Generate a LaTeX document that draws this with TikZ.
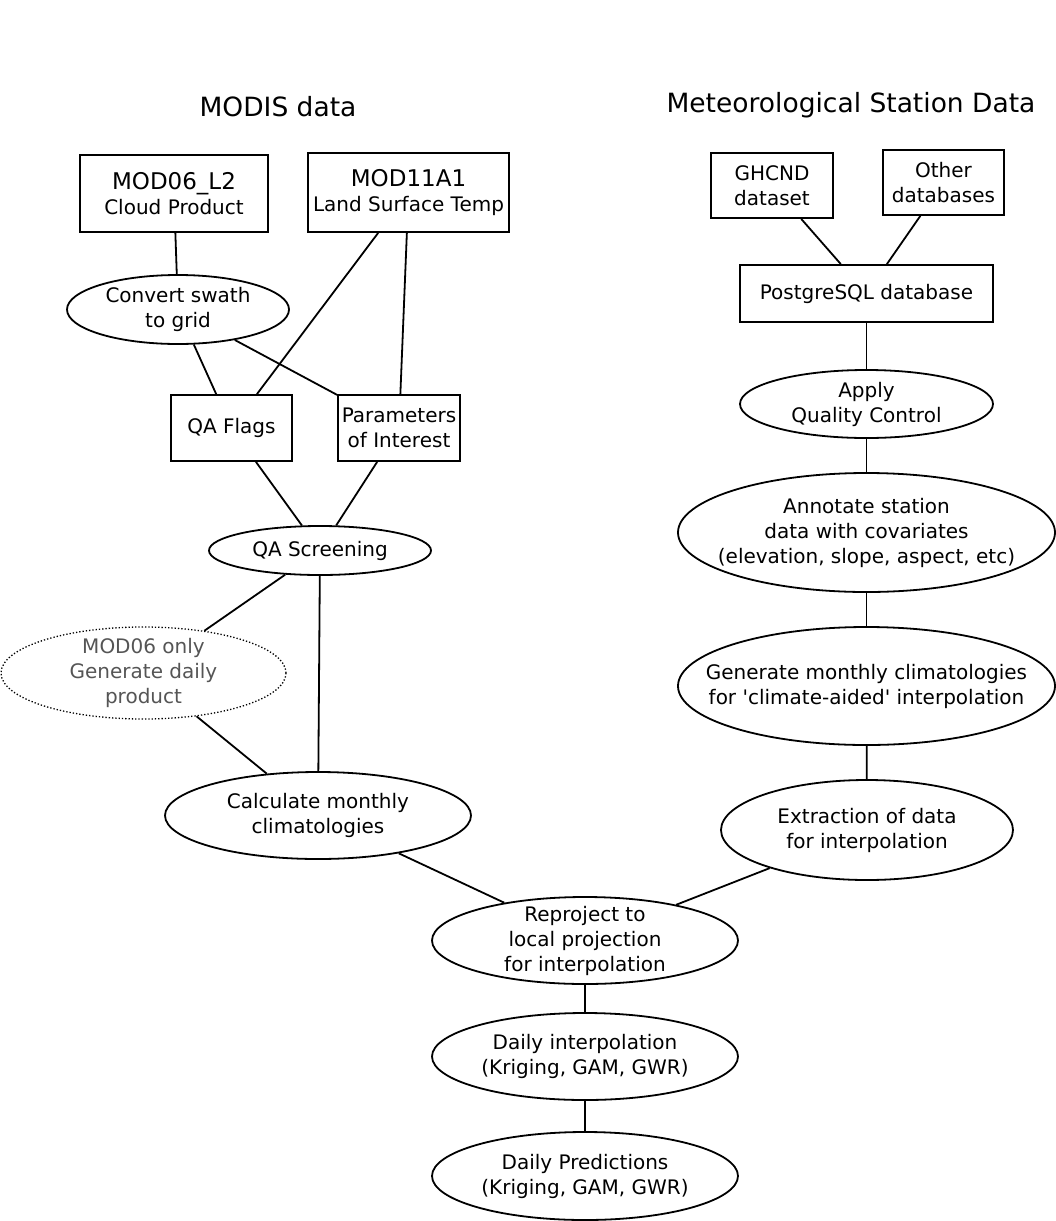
\documentclass[tikz,border=0pt]{standalone}
\usepackage{fontspec}
\setmainfont{DejaVu Sans}
\usepackage{tikz}
\usetikzlibrary{shapes.geometric}

\begin{document}
\begin{tikzpicture}
        \tikzstyle{every path}=[line width=1.8pt]
        \tikzstyle{every node}=[align=center,text=black,font=\fontsize{20}{25}\selectfont,inner sep=2pt]
        \tikzstyle{box}=[rectangle,draw=black]
        \tikzstyle{oval}=[ellipse,draw=black,inner xsep=-50pt,inner ysep=-5pt]
        \tikzstyle{title}=[font=\fontsize{26.5}{32}\selectfont]

        \useasboundingbox (0pt,0pt) rectangle (1056pt,-1221pt);

        % headings
        \node [title] (t0) at (278pt,-107pt) {MODIS data};
        \node [title] (t1) at (851pt,-105pt) {Meteorological Station Data};

        % MODIS branch
        \node [box, minimum width=188pt, minimum height=77pt] (n0) at (174pt,-193.5pt)
            {{\fontsize{23}{26}\selectfont MOD06\_L2}\\Cloud Product};
        \node [box, minimum width=201pt, minimum height=79pt] (n1) at (408.5pt,-192.5pt)
            {{\fontsize{23}{26}\selectfont MOD11A1}\\Land Surface Temp};
        \node [oval, minimum width=222pt, minimum height=69pt] (n2) at (178pt,-309.5pt) {Convert swath\\to grid};
        \node [box, minimum width=121pt, minimum height=66pt] (n3) at (231.5pt,-428pt) {QA Flags};
        \node [box, minimum width=122pt, minimum height=66pt] (n4) at (399pt,-428pt) {Parameters\\of Interest};
        \node [oval, minimum width=222pt, minimum height=49pt] (n5) at (320pt,-550.5pt) {QA Screening};
        \definecolor{gtextcolor}{HTML}{555555}
        \node [oval, dotted, line width=1.3pt, text=gtextcolor, minimum width=285pt, minimum height=92pt] (n6) at (143.5pt,-673pt)
            {MOD06 only\\Generate daily\\product};
        \node [oval, minimum width=306pt, minimum height=87pt] (n7) at (318pt,-815.5pt) {Calculate monthly\\climatologies};

        % station branch
        \node [box, minimum width=122pt, minimum height=65pt] (n8) at (772pt,-185.5pt) {GHCND\\dataset};
        \node [box, minimum width=121pt, minimum height=65pt] (n9) at (943.5pt,-182.5pt) {Other\\databases};
        \node [box, minimum width=253pt, minimum height=57pt] (n10) at (866.5pt,-293.5pt) {PostgreSQL database};
        \node [oval, minimum width=253pt, minimum height=68pt] (n11) at (866.5pt,-404pt) {Apply\\Quality Control};
        \node [oval, minimum width=377pt, minimum height=119pt] (n12) at (866.5pt,-532.5pt)
            {Annotate station\\data with covariates\\(elevation, slope, aspect, etc)};
        \node [oval, minimum width=377pt, minimum height=118pt] (n13) at (866.5pt,-686pt)
            {Generate monthly climatologies\\for \textquotesingle climate-aided\textquotesingle{} interpolation};
        \node [oval, minimum width=292pt, minimum height=100pt] (n14) at (867pt,-830pt) {Extraction of data\\for interpolation};

        % common trunk
        \node [oval, minimum width=306pt, minimum height=87pt] (n15) at (585pt,-940.5pt)
            {Reproject to\\local projection\\for interpolation};
        \node [oval, minimum width=306pt, minimum height=87pt] (n16) at (585pt,-1056.5pt)
            {Daily interpolation\\(Kriging, GAM, GWR)};
        \node [oval, minimum width=306pt, minimum height=88pt] (n17) at (585pt,-1176pt)
            {Daily Predictions\\(Kriging, GAM, GWR)};

        \draw (n0) -- (n2);
        \draw (n1) -- (n3);
        \draw (n1) -- (n4);
        \draw (n2) -- (n3);
        \draw (n2) -- (n4);
        \draw (n3) -- (n5);
        \draw (n4) -- (n5);
        \draw (n5) -- (n6);
        \draw (n5) -- (n7);
        \draw (n6) -- (n7);
        \draw (n7) -- (n15);
        \draw (n8) -- (n10);
        \draw (n9) -- (n10);
        \draw (n10) -- (n11);
        \draw (n11) -- (n12);
        \draw (n12) -- (n13);
        \draw (n13) -- (n14);
        \draw (n14) -- (n15);
        \draw (n15) -- (n16);
        \draw (n16) -- (n17);
    \end{tikzpicture}
\end{document}
